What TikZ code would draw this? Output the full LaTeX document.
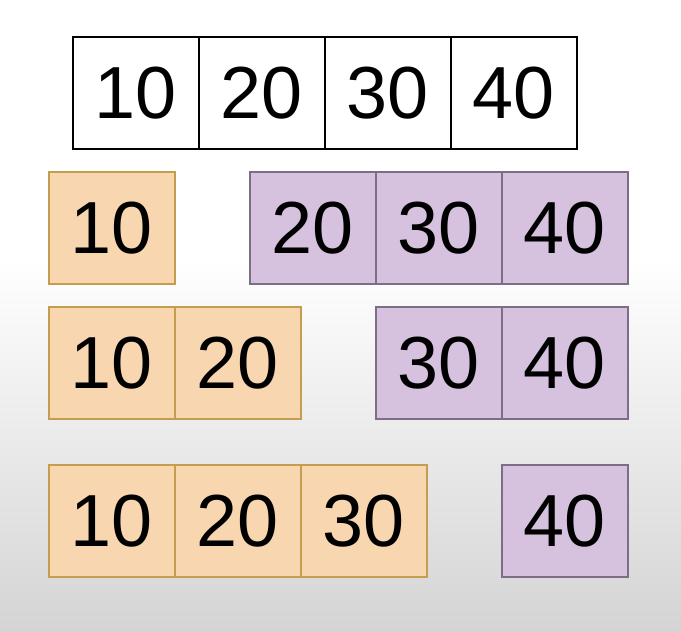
\documentclass[tikz,border=0pt]{standalone}
\usepackage{fontspec}
\setmainfont{Liberation Sans}
\usetikzlibrary{positioning}
\definecolor{lorange}{RGB}{247,214,176}
\definecolor{dorange}{RGB}{196,158,78}
\definecolor{lpurple}{RGB}{214,194,222}
\definecolor{dpurple}{RGB}{125,110,135}
\definecolor{bggray}{RGB}{212,212,212}

\begin{document}
\begin{tikzpicture}[x=0.02cm, y=-0.02cm,
	cell/.style={draw, line width=1.3pt, minimum width=2.52cm, minimum height=2.24cm,
		inner sep=0pt, outer sep=0pt, font=\fontsize{42}{50}\selectfont},
	lowcell/.style={cell, fill=lorange, draw=dorange, line width=0.9pt},
	highcell/.style={cell, fill=lpurple, draw=dpurple, line width=0.9pt},
	node distance=0pt]% {{{ split
	\useasboundingbox (0,0) rectangle (681,632);
	\fill[white] (0,0) rectangle (681,260);
	\shade[top color=white, bottom color=bggray] (0,260) rectangle (681,632);

	% whole array
	\node[cell, anchor=north west] (a1) at (73,37) {10};
	\node[cell, right=of a1] (a2) {20};
	\node[cell, right=of a2] (a3) {30};
	\node[cell, right=of a3] (a4) {40};

	% first split
	\node[lowcell, anchor=north west] (b1) at (49,172) {10};
	\node[highcell, anchor=north west] (c2) at (250,172) {20};
	\node[highcell, right=of c2] (c3) {30};
	\node[highcell, right=of c3] (c4) {40};

	% second split
	\node[lowcell, anchor=north west] (d1) at (49,307) {10};
	\node[lowcell, right=of d1] (d2) {20};
	\node[highcell, anchor=north west] (e3) at (376,307) {30};
	\node[highcell, right=of e3] (e4) {40};

	% third split
	\node[lowcell, anchor=north west] (f1) at (49,465) {10};
	\node[lowcell, right=of f1] (f2) {20};
	\node[lowcell, right=of f2] (f3) {30};
	\node[highcell, anchor=north west] (g4) at (502,465) {40};
\end{tikzpicture}
\end{document}
